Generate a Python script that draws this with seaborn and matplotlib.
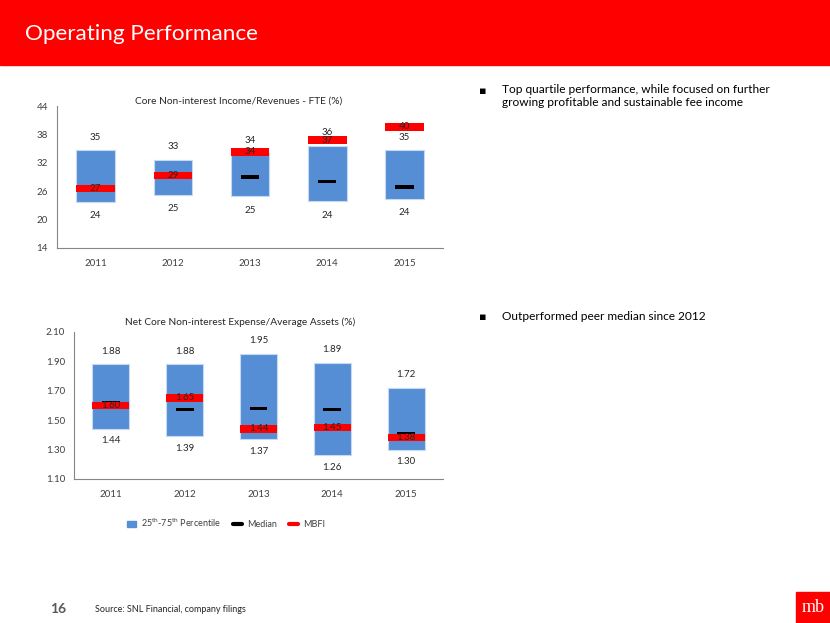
import numpy as np
import pandas as pd
import matplotlib
matplotlib.use("Agg")
import matplotlib.pyplot as plt
import seaborn as sns
from matplotlib.patches import Rectangle, Patch
from matplotlib.lines import Line2D

# data
years = ["2011", "2012", "2013", "2014", "2015"]

inc_low = [23.7, 25.3, 24.9, 23.9, 24.4]
inc_high = [34.6, 32.6, 34.0, 35.6, 34.6]
inc_median = [26.7, 29.2, 29.0, 28.0, 26.9]
inc_mbfi = [26.6, 29.3, 34.3, 36.8, 39.6]

exp_low = [1.44, 1.39, 1.37, 1.26, 1.30]
exp_high = [1.88, 1.88, 1.95, 1.89, 1.72]
exp_median = [1.62, 1.57, 1.58, 1.57, 1.41]
exp_mbfi = [1.60, 1.65, 1.44, 1.45, 1.38]

BLUE = "#558ED5"
RED = "#FF0000"
GRAY = "#404040"

sns.set_style("white")
plt.rcParams["font.family"] = ["Lato", "DejaVu Sans"]
plt.rcParams["mathtext.fontset"] = "custom"
plt.rcParams["mathtext.rm"] = "Lato"

fig = plt.figure(figsize=(8.3, 6.23), dpi=100)
W, H = 830, 623


def px_axes(l, t, r, b):
    return fig.add_axes([l / W, 1 - b / H, (r - l) / W, (b - t) / H])


def draw_panel(ax, low, high, median, mbfi, ylim, yticks, fmt, red_h, med_h, ypad):
    df = pd.DataFrame({"year": years, "low": low, "high": high,
                       "median": median, "mbfi": mbfi})
    df["span"] = df["high"] - df["low"]
    sns.barplot(data=df, x="year", y="span", bottom=df["low"], color=BLUE,
                width=0.5, errorbar=None, edgecolor="#C6D9F1", linewidth=0.8,
                saturation=1, ax=ax)
    sns.barplot(data=df, x="year", y=[med_h] * 5, bottom=df["median"] - med_h / 2,
                color="black", width=0.24, errorbar=None, linewidth=0,
                saturation=1, ax=ax)
    sns.barplot(data=df, x="year", y=[red_h] * 5, bottom=df["mbfi"] - red_h / 2,
                color=RED, width=0.5, errorbar=None, linewidth=0,
                saturation=1, ax=ax)
    for i, row in df.iterrows():
        ax.annotate(fmt.format(row["high"]), (i, row["high"]), xytext=(0, ypad[0]),
                    textcoords="offset points", ha="center", va="center",
                    fontsize=7, color="#262626")
        ax.annotate(fmt.format(row["low"]), (i, row["low"]), xytext=(0, -ypad[1]),
                    textcoords="offset points", ha="center", va="center",
                    fontsize=7, color="#262626")
        ax.annotate(fmt.format(row["mbfi"]), (i, row["mbfi"]), xytext=(0, 0),
                    textcoords="offset points", ha="center", va="center",
                    fontsize=7, color="#262626", zorder=5)
    ax.set_ylim(*ylim)
    ax.set_yticks(yticks)
    ax.set_yticklabels([fmt.format(v) for v in yticks])
    ax.set_xlim(-0.5, 4.5)
    ax.set_xticks(np.arange(-0.5, 5), minor=True)
    ax.tick_params(axis="x", which="major", length=0, labelsize=7, colors=GRAY, pad=8)
    ax.tick_params(axis="x", which="minor", length=4, direction="out", color="#868686")
    ax.tick_params(axis="y", length=3, direction="out", labelsize=7, colors=GRAY,
                   color="#868686")
    ax.set_xlabel("")
    ax.set_ylabel("")
    for s in ["top", "right"]:
        ax.spines[s].set_visible(False)
    for s in ["left", "bottom"]:
        ax.spines[s].set_color("#868686")
        ax.spines[s].set_linewidth(0.8)
    ax.set_facecolor("none")


ax1 = px_axes(57, 106, 443, 248)
draw_panel(ax1, inc_low, inc_high, inc_median, inc_mbfi, (14, 44),
           [14, 20, 26, 32, 38, 44], "{:.0f}", 1.6, 0.7, (9.4, 10))
ax2 = px_axes(74, 331.7, 443, 479)
draw_panel(ax2, exp_low, exp_high, exp_median, exp_mbfi, (1.10, 2.10),
           [1.10, 1.30, 1.50, 1.70, 1.90, 2.10], "{:.2f}", 0.05, 0.022, (9.4, 8.6))

fig.text(239 / W, 1 - 100.7 / H, "Core Non-interest Income/Revenues - FTE (%)",
         ha="center", va="center", fontsize=7.3, color="#262626")
fig.text(240 / W, 1 - 322.7 / H, "Net Core Non-interest Expense/Average Assets (%)",
         ha="center", va="center", fontsize=7.3, color="#262626")

# header band
fig.patches.append(Rectangle((0, 1 - 65 / H), 1, 65 / H, transform=fig.transFigure,
                             color=RED, zorder=0))
fig.text(25 / W, 1 - 34 / H, "Operating Performance", ha="left", va="center",
         fontsize=16.2, color="white")

# bullets
fig.text(483 / W, 1 - 91 / H, "\u25aa", ha="center", va="center", fontsize=8,
         color="black", family=["DejaVu Sans"])
fig.text(502 / W, 1 - 84 / H, "Top quartile performance, while focused on further\n"
         "growing profitable and sustainable fee income", ha="left", va="top",
         fontsize=8.6, color="black", linespacing=1.2)
fig.text(483 / W, 1 - 317 / H, "\u25aa", ha="center", va="center", fontsize=8,
         color="black", family=["DejaVu Sans"])
fig.text(502 / W, 1 - 317 / H, "Outperformed peer median since 2012", ha="left",
         va="center", fontsize=8.6, color="black")

# legend
handles = [Patch(color=BLUE),
           Line2D([], [], color="black", lw=3),
           Line2D([], [], color=RED, lw=3)]
labels = ["25$^{\\mathrm{th}}$-75$^{\\mathrm{th}}$ Percentile", "Median", "MBFI"]
fig.legend(handles, labels, loc="center", bbox_to_anchor=(226 / W, 1 - 523 / H),
           ncol=3, frameon=False, fontsize=6.5, handlelength=1.0, handleheight=0.7,
           columnspacing=1.4, handletextpad=0.5, labelcolor=GRAY)

# footer
fig.text(50 / W, 1 - 609 / H, "16", ha="left", va="center", fontsize=10,
         color="#595959", weight="bold")
fig.text(95 / W, 1 - 609 / H, "Source: SNL Financial, company filings", ha="left",
         va="center", fontsize=6.5, color="#262626")
fig.patches.append(Rectangle((796 / W, 0), 34 / W, 31 / H, transform=fig.transFigure,
                             color=RED, zorder=0))
fig.text(813 / W, 1 - 607 / H, "mb", ha="center", va="center", fontsize=13,
         color="white", family=["Liberation Serif", "DejaVu Serif"])

fig.savefig("out.png", dpi=100)
